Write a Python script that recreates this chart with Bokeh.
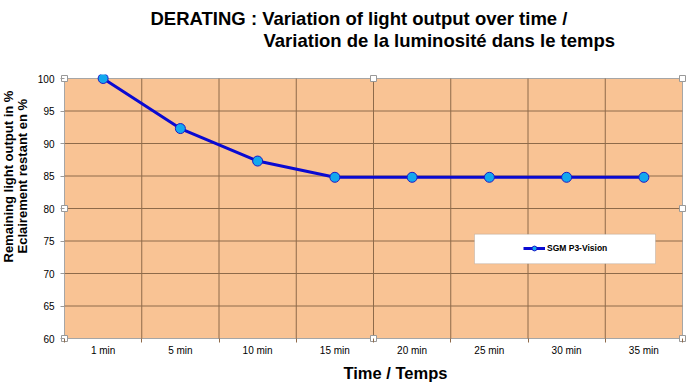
from bokeh.plotting import figure
from bokeh.models import (Range1d, FixedTicker, Title, BoxAnnotation, Legend, LegendItem, LinearAxis)
from bokeh.embed import file_html
from bokeh.resources import INLINE

# ---- data ----
categories = ["1 min", "5 min", "10 min", "15 min", "20 min", "25 min", "30 min", "35 min"]
light_output = [100, 92.3, 87.3, 84.8, 84.8, 84.8, 84.8, 84.8]
series_name = "SGM P3-Vision"
y_ticks = [60, 65, 70, 75, 80, 85, 90, 95, 100]
title_line1 = "DERATING : Variation of light output over time /"
title_line2 = "Variation de la luminosité dans le temps"
y_label_line1 = "Remaining light output in %"
y_label_line2 = "Eclairement restant en %"
x_label = "Time / Temps"

n = len(categories)
x_centers = [i + 0.5 for i in range(n)]
boundaries = list(range(0, n + 1))
y_min, y_max = y_ticks[0], y_ticks[-1]

FONT = "Liberation Sans"
ORANGE = "#F9C394"
GRID = "#8E6A4A"

# plot area is 618 x 260 px; frame padded by 4 px so edge handles are not clipped
px_per_x = 618.0 / n
px_per_y = 260.0 / (y_max - y_min)
pad = 4
x_pad, y_pad = pad / px_per_x, pad / px_per_y

p = figure(width=698, height=383, output_backend="svg", toolbar_location=None,
           x_range=Range1d(-x_pad, n + x_pad), y_range=Range1d(y_min - y_pad, y_max + y_pad),
           min_border_left=60, min_border_right=12, min_border_top=74, min_border_bottom=41)
p.background_fill_color = "white"
p.border_fill_color = "white"
p.outline_line_color = None
p.xgrid.visible = False
p.ygrid.visible = False

# x axis: labels at category centres, tick marks at category boundaries
xa = p.xaxis[0]
xa.ticker = FixedTicker(ticks=x_centers, minor_ticks=boundaries)
xa.major_label_overrides = {c: lab for c, lab in zip(x_centers, categories)}
xa.axis_line_color = None
xa.major_tick_line_color = None
xa.major_tick_out = 0
xa.major_tick_in = 0
xa.minor_tick_in = pad
xa.minor_tick_out = 0
xa.minor_tick_line_color = GRID
xa.major_label_standoff = 2
xa.major_label_text_font = FONT
xa.major_label_text_font_size = "10px"
xa.major_label_text_color = "black"

# y axis
ya = p.yaxis[0]
ya.ticker = FixedTicker(ticks=y_ticks)
ya.axis_line_color = None
ya.major_tick_in = pad
ya.major_tick_out = 0
ya.minor_tick_line_color = None
ya.major_tick_line_color = "#9a9a9a"
ya.major_label_standoff = 6
ya.major_label_text_font = FONT
ya.major_label_text_font_size = "10px"
ya.major_label_text_color = "black"

# plot area
p.quad(left=[0], right=[n], bottom=[y_min], top=[y_max], fill_color=ORANGE,
       line_color="#a6a6a6", line_width=1)
inner_b = boundaries[1:-1]
p.segment(x0=inner_b, x1=inner_b, y0=[y_min] * len(inner_b), y1=[y_max] * len(inner_b),
          line_color=GRID, line_width=1)
inner_y = y_ticks[1:-1]
p.segment(x0=[0] * len(inner_y), x1=[n] * len(inner_y), y0=inner_y, y1=inner_y,
          line_color=GRID, line_width=1)

# series
line_r = p.line(x_centers, light_output, line_color="#0A0AD2", line_width=3)
pts_r = p.scatter(x_centers, light_output, size=10, fill_color="#12A8EE",
                  line_color="#1A1AC8", line_width=1)

# selection handles (corners and mid-edges of plot area)
hx = [0, n / 2, n]
hy = [y_max, (y_max + y_min) / 2, y_min]
handles = [(xx, yy) for yy in hy for xx in hx if not (xx == hx[1] and yy == hy[1])]
p.scatter([h[0] for h in handles], [h[1] for h in handles], marker="square", size=6,
          fill_color="white", line_color="#999999", line_width=1)

# legend box + legend
def dx(px):
    return (px - 64) / px_per_x
def dy(py):
    return y_max - (py - 78.3) / px_per_y

p.add_layout(BoxAnnotation(left=dx(474), right=dx(655), top=dy(234), bottom=dy(263.5),
                           fill_color="white", fill_alpha=1, line_color="#8c8c8c", line_width=1))
legend = Legend(items=[LegendItem(label=series_name, renderers=[line_r, pts_r])],
                location=(463, 88), padding=0, margin=0, spacing=0,
                glyph_width=22, glyph_height=12, label_height=12, label_standoff=2,
                border_line_color=None, background_fill_alpha=0,
                label_text_font=FONT, label_text_font_size="8.5px",
                label_text_font_style="bold", label_text_color="black")
p.add_layout(legend)

def spacer(size, at):
    # blank axis (one white tick, empty label) used only to reserve space in a side panel
    return LinearAxis(ticker=FixedTicker(ticks=[at]), major_label_overrides={at: ""},
                      axis_line_color=None, major_tick_line_color="white",
                      minor_tick_line_color=None, major_tick_out=size, major_tick_in=0,
                      minor_tick_out=0, minor_tick_in=0, major_label_standoff=0,
                      major_label_text_font_size="0px")

# chart title (two lines, second indented): spacer nearest frame, then line 2, then line 1
p.add_layout(spacer(24, n / 2), "above")
p.add_layout(Title(text=title_line2, align="left", offset=203, standoff=0, text_font=FONT,
                   text_font_size="18.5px", text_font_style="bold", text_color="black"), "above")
p.title.text = title_line1
p.title.align = "left"
p.title.offset = 90
p.title.standoff = -3.4
p.title.text_font = FONT
p.title.text_font_size = "18.5px"
p.title.text_font_style = "bold"
p.title.text_color = "black"

# y axis title (two lines)
p.add_layout(Title(text=y_label_line2, align="left", offset=89, standoff=9, text_font=FONT,
                   text_font_size="13px", text_font_style="bold", text_color="black"), "left")
p.add_layout(Title(text=y_label_line1, align="left", offset=80, standoff=-14, text_font=FONT,
                   text_font_size="13px", text_font_style="bold", text_color="black"), "left")

# x axis title
p.add_layout(spacer(3, 0), "below")
p.add_layout(Title(text=x_label, align="left", offset=283, standoff=0, text_font=FONT,
                   text_font_size="16.5px", text_font_style="bold", text_color="black"), "below")

open("out.html", "w").write(file_html(p, INLINE))
